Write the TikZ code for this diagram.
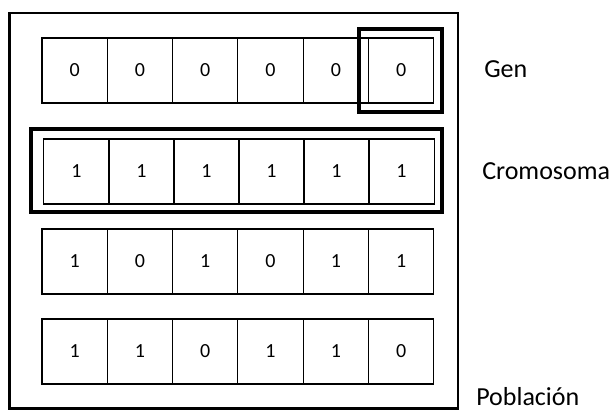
\documentclass[tikz,border=0pt]{standalone}
\usepackage{fontspec}
\setmainfont{Carlito}
\begin{document}
\begin{tikzpicture}[x=0.75pt,y=-0.75pt,
  cell/.style={draw=black,line width=0.8pt,rectangle,inner sep=0pt,
    minimum width=65.3*0.75pt,minimum height=65*0.75pt,font=\fontsize{15}{17}\selectfont},
  frame/.style={draw=black,line width=1.6pt},
  thickbox/.style={draw=black,line width=3pt},
  lbl/.style={anchor=base west,inner sep=0pt,font=\fontsize{19.5}{22}\selectfont}]
\useasboundingbox (0,0) rectangle (610,418);
\draw[frame] (9.5,13) rectangle (458,408.5);
% rows
\foreach \v [count=\i] in {0,0,0,0,0,0}
  \node[cell] (a\i) at ({42+(\i-0.5)*65.3},70.5) {\v};
\foreach \v [count=\i] in {1,1,1,1,1,1}
  \node[cell] (b\i) at ({44+(\i-0.5)*65},171.5) {\v};
\foreach \v [count=\i] in {1,0,1,0,1,1}
  \node[cell] (c\i) at ({42+(\i-0.5)*65.3},261.5) {\v};
\foreach \v [count=\i] in {1,1,0,1,1,0}
  \node[cell] (d\i) at ({42+(\i-0.5)*65.3},351.5) {\v};
% highlight boxes
\draw[thickbox] (359,29) rectangle (442,112);
\draw[thickbox] (31,129) rectangle (442,212);
% labels
\node[lbl] (gen) at (484,77.7) {Gen};
\node[lbl] (crom) at (482,179) {Cromosoma};
\node[lbl] (pob) at (476,405) {Población};
\end{tikzpicture}
\end{document}
